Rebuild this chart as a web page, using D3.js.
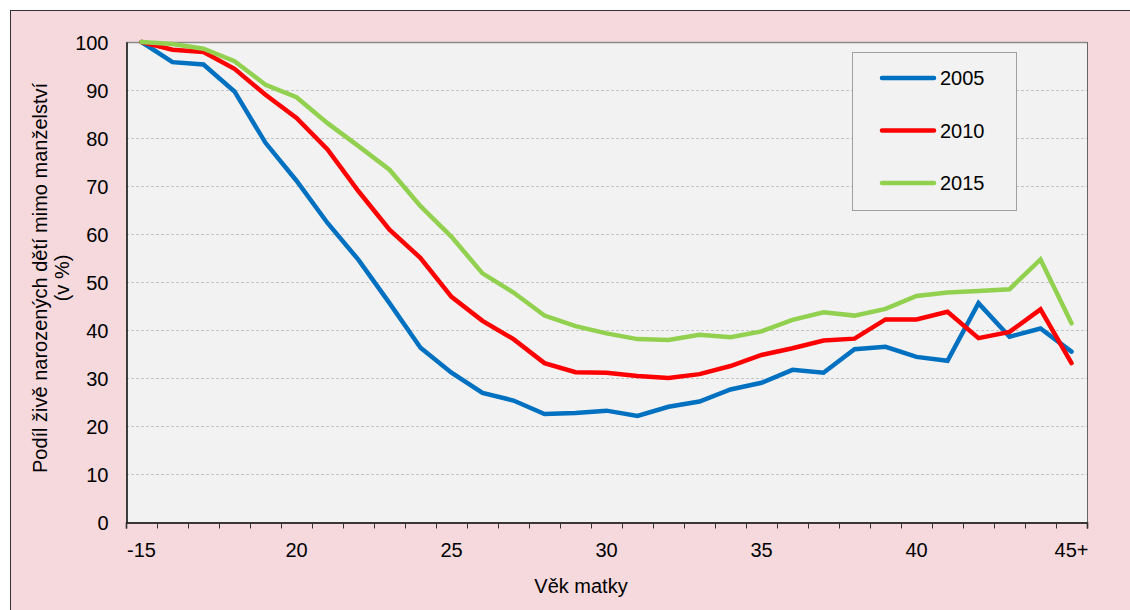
<!DOCTYPE html>
<html>
<head>
<meta charset="utf-8">
<title>Podíl živě narozených dětí mimo manželství</title>
<script src="https://d3js.org/d3.v7.min.js"></script>
<style>
    body {
        margin: 0;
        overflow: hidden;
        background: #ffffff;
    }
    text {
        font-family: "Liberation Sans", Arial, sans-serif;
        fill: #000;
    }
</style>
</head>
<body>
<script>
    // ages 15 .. 45 (first category is "-15", last "45+")
    const ages = [15, 16, 17, 18, 19, 20, 21, 22, 23, 24, 25, 26, 27, 28, 29, 30,
                  31, 32, 33, 34, 35, 36, 37, 38, 39, 40, 41, 42, 43, 44, 45];
    const ageLabels = {15: "-15", 20: "20", 25: "25", 30: "30", 35: "35", 40: "40", 45: "45+"};

    const v2005 = [100, 95.8, 95.3, 89.7, 79.0, 71.1, 62.3, 54.6, 45.6, 36.3, 31.1, 26.9, 25.3, 22.5, 22.7, 23.2,
                   22.1, 24.0, 25.1, 27.6, 29.0, 31.7, 31.1, 36.0, 36.5, 34.4, 33.6, 45.6, 38.6, 40.3, 35.5];
    const v2010 = [100, 98.4, 97.9, 94.4, 89.0, 84.2, 77.6, 68.9, 60.9, 55.0, 46.9, 41.9, 38.1, 33.1, 31.2, 31.1,
                   30.4, 30.0, 30.8, 32.5, 34.8, 36.2, 37.8, 38.2, 42.2, 42.2, 43.8, 38.3, 39.6, 44.3, 33.1];
    const v2015 = [100, 99.6, 98.6, 96.0, 91.1, 88.5, 83.1, 78.3, 73.4, 65.8, 59.4, 51.8, 47.8, 43.0, 40.8, 39.3,
                   38.1, 37.9, 39.0, 38.5, 39.7, 42.1, 43.7, 43.0, 44.4, 47.1, 47.8, 48.1, 48.5, 54.7, 41.4];

    const seriesNames = ["2005", "2010", "2015"];
    const seriesColors = ["#0070c0", "#ff0000", "#92d050"];
    const seriesValues = [v2005, v2010, v2015];

    const yTicks = [0, 10, 20, 30, 40, 50, 60, 70, 80, 90, 100];

    const width = 1130, height = 610;
    const plotLeft = 126, plotRight = 1087, plotTop = 42, plotBottom = 522;
    const fontSize = "20px";

    const svg = d3.select("body").append("svg")
        .attr("width", width)
        .attr("height", height);

    // outer pink frame
    svg.append("rect")
        .attr("x", 10.5).attr("y", 10.5)
        .attr("width", width).attr("height", height)
        .attr("fill", "#f5d9dc")
        .attr("stroke", "#333")
        .attr("stroke-width", 1);

    const x = d3.scaleLinear().domain([14.5, 45.5]).range([plotLeft, plotRight]);
    const y = d3.scaleLinear().domain([0, 100]).range([plotBottom, plotTop]);

    // plot area
    svg.append("rect")
        .attr("x", plotLeft).attr("y", plotTop)
        .attr("width", plotRight - plotLeft).attr("height", plotBottom - plotTop)
        .attr("fill", "#f2f2f2");

    // gridlines
    svg.append("g")
        .selectAll("line")
        .data(yTicks.filter(function(d) { return d > 0 && d < 100; }))
        .join("line")
        .attr("x1", plotLeft).attr("x2", plotRight)
        .attr("y1", function(d) { return Math.round(y(d)) + 0.5; })
        .attr("y2", function(d) { return Math.round(y(d)) + 0.5; })
        .attr("stroke", "#c4c4c4")
        .attr("stroke-dasharray", "3,2");

    // top and right border
    svg.append("line")
        .attr("x1", plotLeft).attr("x2", plotRight)
        .attr("y1", plotTop + 0.5).attr("y2", plotTop + 0.5)
        .attr("stroke", "#8a8a8a").attr("stroke-width", 1.5);
    svg.append("line")
        .attr("x1", plotRight + 0.5).attr("x2", plotRight + 0.5)
        .attr("y1", plotTop).attr("y2", plotBottom)
        .attr("stroke", "#666").attr("stroke-width", 1);

    // y axis
    const yAxis = svg.append("g")
        .attr("transform", "translate(" + (plotLeft + 0.5) + ",0)")
        .call(d3.axisLeft(y).tickValues(yTicks).tickSize(0).tickPadding(18));
    yAxis.select(".domain").attr("stroke", "#000").attr("stroke-width", 1.5);
    yAxis.selectAll("text")
        .style("font-size", fontSize)
        .attr("dy", "0.35em");

    // x axis: ticks on category boundaries
    const boundaries = ages.map(function(a) { return a - 0.5; }).concat([45.5]);
    const xAxis = svg.append("g")
        .attr("transform", "translate(0," + (plotBottom + 0.5) + ")")
        .call(d3.axisBottom(x).tickValues(boundaries).tickSize(6).tickFormat(""));
    xAxis.select(".domain").attr("stroke", "#000").attr("stroke-width", 1.5);
    xAxis.selectAll(".tick line").attr("stroke", "#333");

    // x labels
    const labelAges = ages.filter(function(a) { return ageLabels[a] !== undefined; });
    svg.append("g")
        .selectAll("text")
        .data(labelAges)
        .join("text")
        .attr("x", function(d) { return x(d); })
        .attr("y", 557)
        .attr("text-anchor", "middle")
        .style("font-size", fontSize)
        .text(function(d) { return ageLabels[d]; });

    // axis titles
    svg.append("text")
        .attr("x", 581).attr("y", 593)
        .attr("text-anchor", "middle")
        .style("font-size", fontSize)
        .text("Věk matky");

    const yTitle = svg.append("text")
        .attr("transform", "translate(47,278) rotate(-90)")
        .attr("text-anchor", "middle")
        .style("font-size", fontSize);
    yTitle.append("tspan").attr("x", 0).attr("y", 0).text("Podíl živě narozených dětí mimo manželství");
    yTitle.append("tspan").attr("x", 0).attr("y", 22).text("(v %)");

    // lines
    const line = d3.line()
        .x(function(d, i) { return x(ages[i]); })
        .y(function(d) { return y(d); });

    svg.append("g")
        .selectAll("path")
        .data(seriesValues)
        .join("path")
        .attr("d", line)
        .attr("fill", "none")
        .attr("stroke", function(d, i) { return seriesColors[i]; })
        .attr("stroke-width", 4.5)
        .attr("stroke-linecap", "round")
        .attr("stroke-linejoin", "miter");

    // legend
    const legend = svg.append("g");
    legend.append("rect")
        .attr("x", 852.5).attr("y", 52.5)
        .attr("width", 164).attr("height", 158)
        .attr("fill", "#f2f2f2")
        .attr("stroke", "#a0a0a0");

    const item = legend.selectAll("g")
        .data(seriesNames)
        .join("g")
        .attr("transform", function(d, i) { return "translate(0," + (78 + i * 52.5) + ")"; });
    item.append("line")
        .attr("x1", 882).attr("x2", 934)
        .attr("stroke", function(d, i) { return seriesColors[i]; })
        .attr("stroke-width", 4.5)
        .attr("stroke-linecap", "round");
    item.append("text")
        .attr("x", 940).attr("y", 0)
        .attr("dy", "0.35em")
        .style("font-size", fontSize)
        .text(function(d) { return d; });
</script>
</body>
</html>
